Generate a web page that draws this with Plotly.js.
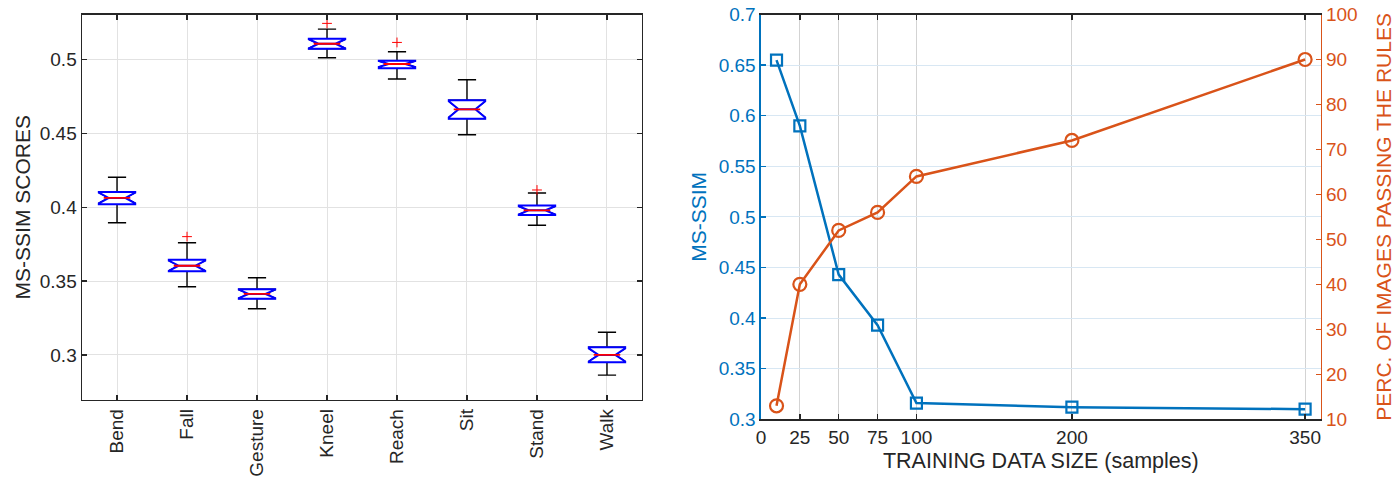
<!DOCTYPE html>
<html>
<head>
<meta charset="utf-8">
<script src="https://cdn.plot.ly/plotly-3.0.1.min.js"></script>
<style>html,body{margin:0;padding:0;background:#fff;}</style>
</head>
<body>
<div id="chart" style="width:1395px;height:484px;"></div>
<script>
// ---- Left panel: MS-SSIM score distribution per activity ----
const activities = ['Bend', 'Fall', 'Gesture', 'Kneel', 'Reach', 'Sit', 'Stand', 'Walk'];
const medians = [0.4063, 0.3604, 0.3413, 0.5107, 0.4970, 0.4663, 0.3979, 0.3000];
const q1Values = [0.4020, 0.3566, 0.3381, 0.5073, 0.4942, 0.4600, 0.3948, 0.2951];
const q3Values = [0.4103, 0.3645, 0.3445, 0.5141, 0.4992, 0.4724, 0.4011, 0.3052];
const lowerWhiskers = [0.3895, 0.3462, 0.3313, 0.5012, 0.4868, 0.4491, 0.3878, 0.2863];
const upperWhiskers = [0.4203, 0.3760, 0.3523, 0.5206, 0.5053, 0.4863, 0.4096, 0.3154];
const outlierActivities = ['Fall', 'Kneel', 'Reach', 'Stand'];
const outlierScores = [0.3801, 0.5245, 0.5116, 0.4117];
const scoreTicks = [0.3, 0.35, 0.4, 0.45, 0.5];
const scoreTickText = ['0.3', '0.35', '0.4', '0.45', '0.5'];

// ---- Right panel: training data size study ----
const trainingSizes = [10, 25, 50, 75, 100, 200, 350];
const msssimValues = [0.655, 0.590, 0.443, 0.393, 0.316, 0.312, 0.310];
const percPassing = [13, 40, 52, 56, 64, 72, 90];
const sizeTicks = [0, 25, 50, 75, 100, 200, 350];
const msssimTicks = [0.3, 0.35, 0.4, 0.45, 0.5, 0.55, 0.6, 0.65, 0.7];
const msssimTickText = ['0.3', '0.35', '0.4', '0.45', '0.5', '0.55', '0.6', '0.65', '0.7'];
const percTicks = [10, 20, 30, 40, 50, 60, 70, 80, 90, 100];

const FONT = 'Liberation Sans, Arial, Helvetica, sans-serif';
const INK = '#262626';
const BLUE = '#0072BD';
const ORANGE = '#D95319';

// notch half-height derived from each box
const notchSpans = medians.map((m, i) => 0.9 * Math.min(m - q1Values[i], q3Values[i] - m));
const BOXW = 0.52;

const boxBase = {
  type: 'box', orientation: 'v', x: activities,
  q1: q1Values, median: medians, q3: q3Values,
  xaxis: 'x', yaxis: 'y', boxpoints: false, hoverinfo: 'skip', showlegend: false
};

const traces = [
  Object.assign({}, boxBase, {
    lowerfence: lowerWhiskers, upperfence: upperWhiskers,
    notched: true, notchspan: notchSpans, notchwidth: 0.27,
    width: BOXW, whiskerwidth: 0.5,
    line: {color: '#000000', width: 1.4}, fillcolor: '#ffffff'
  }),
  Object.assign({}, boxBase, {
    lowerfence: q1Values, upperfence: q3Values,
    notched: true, notchspan: notchSpans, notchwidth: 0.27,
    width: BOXW, whiskerwidth: 0,
    line: {color: '#0000ff', width: 2}, fillcolor: '#ffffff'
  }),
  Object.assign({}, boxBase, {
    q1: medians, q3: medians, lowerfence: medians, upperfence: medians,
    width: BOXW * 0.73, whiskerwidth: 0,
    line: {color: '#ff0000', width: 1.8}, fillcolor: 'rgba(0,0,0,0)'
  }),
  {
    type: 'scatter', mode: 'markers', x: outlierActivities, y: outlierScores,
    xaxis: 'x', yaxis: 'y', showlegend: false, hoverinfo: 'skip',
    marker: {symbol: 'cross-thin', size: 7, color: '#ff0000', line: {color: '#ff0000', width: 1}}
  },
  {
    type: 'scatter', mode: 'lines+markers', x: trainingSizes, y: msssimValues,
    xaxis: 'x2', yaxis: 'y2', showlegend: false, name: 'MS-SSIM',
    line: {color: BLUE, width: 2.5},
    marker: {symbol: 'square-open', size: 11, color: BLUE, line: {color: BLUE, width: 2.2}}
  },
  {
    type: 'scatter', mode: 'lines+markers', x: trainingSizes, y: percPassing,
    xaxis: 'x2', yaxis: 'y3', showlegend: false, name: 'Perc. passing',
    line: {color: ORANGE, width: 2.5},
    marker: {symbol: 'circle-open', size: 13, color: ORANGE, line: {color: ORANGE, width: 2.2}}
  }
];

const frameAxis = {
  showline: true, linecolor: INK, linewidth: 1.5, mirror: 'ticks',
  ticks: 'inside', ticklen: 5, tickwidth: 1.5, tickcolor: INK,
  zeroline: false, showgrid: true, gridcolor: '#e2e2e2', gridwidth: 1,
  tickfont: {family: FONT, size: 19, color: INK}
};

const layout = {
  width: 1395, height: 484,
  margin: {l: 0, r: 0, t: 0, b: 0},
  paper_bgcolor: '#ffffff', plot_bgcolor: '#ffffff',
  font: {family: FONT, color: INK},
  showlegend: false,
  boxmode: 'overlay',
  xaxis: Object.assign({}, frameAxis, {
    domain: [0.0588, 0.4602], anchor: 'y', type: 'category',
    range: [-0.5, 7.5], tickangle: -90, fixedrange: true
  }),
  yaxis: Object.assign({}, frameAxis, {
    domain: [0.1736, 0.970], anchor: 'x',
    range: [0.2695, 0.5305], tickvals: scoreTicks, ticktext: scoreTickText,
    title: {text: 'MS-SSIM SCORES', font: {family: FONT, size: 21, color: INK}}
  }),
  xaxis2: Object.assign({}, frameAxis, {
    domain: [0.5455, 0.9467], anchor: 'y2',
    range: [0, 360], tickvals: sizeTicks, gridcolor: '#d3d3d3',
    title: {text: 'TRAINING DATA SIZE (samples)', font: {family: FONT, size: 21.5, color: INK}, standoff: 6}
  }),
  yaxis2: Object.assign({}, frameAxis, {
    domain: [0.1337, 0.970], anchor: 'x2',
    range: [0.3, 0.7], tickvals: msssimTicks, ticktext: msssimTickText,
    linecolor: BLUE, tickcolor: BLUE, mirror: false, gridcolor: '#d8e7f3',
    tickfont: {family: FONT, size: 19, color: BLUE},
    title: {text: 'MS-SSIM', font: {family: FONT, size: 21, color: BLUE}, standoff: 6}
  }),
  yaxis3: Object.assign({}, frameAxis, {
    domain: [0.1337, 0.970], anchor: 'x2', overlaying: 'y2', side: 'right',
    range: [10, 100], tickvals: percTicks, showgrid: false,
    linecolor: ORANGE, tickcolor: ORANGE, mirror: false,
    tickfont: {family: FONT, size: 19, color: ORANGE},
    title: {text: 'PERC. OF IMAGES PASSING THE RULES', font: {family: FONT, size: 21, color: ORANGE}, standoff: 20}
  })
};

Plotly.newPlot('chart', traces, layout, {staticPlot: true, displayModeBar: false});
</script>
</body>
</html>
